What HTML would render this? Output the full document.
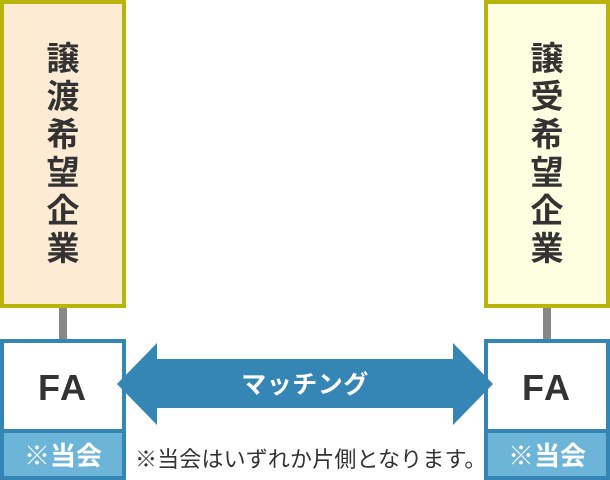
<!DOCTYPE html>
<html><head><meta charset="utf-8"><style>
html,body{margin:0;padding:0;background:#fff;}
body{width:610px;height:480px;position:relative;overflow:hidden;font-family:"Liberation Sans","Noto Sans CJK JP",sans-serif;}
.tall{position:absolute;top:0;width:118px;height:300px;border:4px solid #b9b40c;}
.tall .t{position:absolute;left:0;right:0;top:33px;text-align:center;font-family:"Noto Sans CJK JP",sans-serif;font-weight:bold;font-size:33px;line-height:38px;color:#333;}
.conn{position:absolute;top:308px;width:8px;height:32px;background:#888;}
.fa{position:absolute;top:339px;width:118px;height:133px;border:4px solid #3586b4;background:#fff;}
.fa .n{position:absolute;left:0;right:0;top:0;height:86px;line-height:90px;text-align:center;font-family:"Liberation Sans",sans-serif;font-weight:bold;font-size:36px;color:#333;letter-spacing:2px;}
.fa .b{position:absolute;left:0;right:0;bottom:0;height:43px;border-top:4px solid #3586b4;background:#6cb5d8;color:#fff;text-align:center;font-family:"Noto Sans CJK JP",sans-serif;font-weight:bold;font-size:26px;line-height:43px;}
.note{position:absolute;left:135px;top:442px;font-family:"Noto Sans CJK JP",sans-serif;font-size:22px;line-height:32px;color:#333;letter-spacing:0.15px;white-space:nowrap;}
.label{position:absolute;left:157px;width:296px;top:359px;height:49px;line-height:49px;text-align:center;color:#fff;font-family:"Noto Sans CJK JP",sans-serif;font-weight:bold;font-size:25px;letter-spacing:0.5px;}
</style></head><body>
<div class="tall" style="left:0;background:#fdebd4;"><div class="t">譲<br>渡<br>希<br>望<br>企<br>業</div></div>
<div class="tall" style="left:484px;background:#fefee0;"><div class="t">譲<br>受<br>希<br>望<br>企<br>業</div></div>
<div class="conn" style="left:59px;"></div>
<div class="conn" style="left:543px;"></div>
<div class="fa" style="left:0;"><div class="n">FA</div><div class="b">※当会</div></div>
<div class="fa" style="left:484px;"><div class="n">FA</div><div class="b">※当会</div></div>
<svg style="position:absolute;left:0;top:0" width="610" height="480">
<polygon points="117,384 157,343 157,359 453,359 453,343 493,384 453,425 453,408 157,408 157,425" fill="#3586b4"/>
</svg>
<div class="label">マッチング</div>
<div class="note">※当会はいずれか片側となります。</div>
</body></html>
